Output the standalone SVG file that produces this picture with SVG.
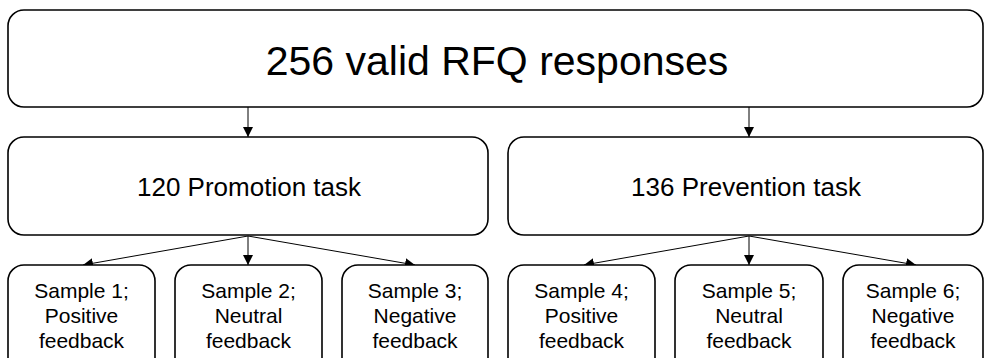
<svg xmlns="http://www.w3.org/2000/svg" width="984" height="358" viewBox="0 0 984 358">
  <defs>
    <marker id="arrow" viewBox="0 0 10 10" refX="10" refY="5" markerWidth="10" markerHeight="10" markerUnits="userSpaceOnUse" orient="auto">
      <path d="M0,0 L10,5 L0,10 Z" fill="#000"/>
    </marker>
    <style>
      .box { fill: #fff; stroke: #000; stroke-width: 1.6; }
      .edge { fill: none; stroke: #000; stroke-width: 1; marker-end: url(#arrow); }
      text { font-family: "Liberation Sans", Arial, sans-serif; fill: #000; text-anchor: middle; }
      .t1 { font-size: 41px; }
      .t2 { font-size: 26px; }
      .t3 { font-size: 21px; }
    </style>
  </defs>
  <rect width="984" height="358" fill="#fff"/>

  <g id="connectors">
    <line class="edge" x1="248" y1="107" x2="248" y2="137"/>
    <line class="edge" x1="749" y1="107" x2="749" y2="137"/>
    <line class="edge" x1="248" y1="236" x2="83" y2="265"/>
    <line class="edge" x1="248" y1="236" x2="248" y2="265"/>
    <line class="edge" x1="248" y1="236" x2="415" y2="265"/>
    <line class="edge" x1="749" y1="236" x2="584" y2="265"/>
    <line class="edge" x1="749" y1="236" x2="749" y2="265"/>
    <line class="edge" x1="749" y1="236" x2="916" y2="265"/>
  </g>

  <g id="root">
    <rect class="box" x="8" y="10" width="975" height="97" rx="16"/>
    <text class="t1" x="497" y="75">256 valid RFQ responses</text>
  </g>

  <g id="promotion">
    <rect class="box" x="8" y="137" width="480" height="98" rx="16"/>
    <text class="t2" x="249" y="196">120 Promotion task</text>
  </g>

  <g id="prevention">
    <rect class="box" x="508" y="137" width="475" height="98" rx="16"/>
    <text class="t2" x="746" y="196">136 Prevention task</text>
  </g>

  <g id="sample1">
    <rect class="box" x="8" y="265" width="147" height="110" rx="16"/>
    <text class="t3" x="81.5" y="298">Sample 1;</text>
    <text class="t3" x="81.5" y="323">Positive</text>
    <text class="t3" x="81.5" y="348">feedback</text>
  </g>

  <g id="sample2">
    <rect class="box" x="175" y="265" width="147" height="110" rx="16"/>
    <text class="t3" x="248.5" y="298">Sample 2;</text>
    <text class="t3" x="248.5" y="323">Neutral</text>
    <text class="t3" x="248.5" y="348">feedback</text>
  </g>

  <g id="sample3">
    <rect class="box" x="342" y="265" width="146" height="110" rx="16"/>
    <text class="t3" x="415" y="298">Sample 3;</text>
    <text class="t3" x="415" y="323">Negative</text>
    <text class="t3" x="415" y="348">feedback</text>
  </g>

  <g id="sample4">
    <rect class="box" x="508" y="265" width="147" height="110" rx="16"/>
    <text class="t3" x="581.5" y="298">Sample 4;</text>
    <text class="t3" x="581.5" y="323">Positive</text>
    <text class="t3" x="581.5" y="348">feedback</text>
  </g>

  <g id="sample5">
    <rect class="box" x="675" y="265" width="148" height="110" rx="16"/>
    <text class="t3" x="749" y="298">Sample 5;</text>
    <text class="t3" x="749" y="323">Neutral</text>
    <text class="t3" x="749" y="348">feedback</text>
  </g>

  <g id="sample6">
    <rect class="box" x="843" y="265" width="140" height="110" rx="16"/>
    <text class="t3" x="913" y="298">Sample 6;</text>
    <text class="t3" x="913" y="323">Negative</text>
    <text class="t3" x="913" y="348">feedback</text>
  </g>
</svg>
